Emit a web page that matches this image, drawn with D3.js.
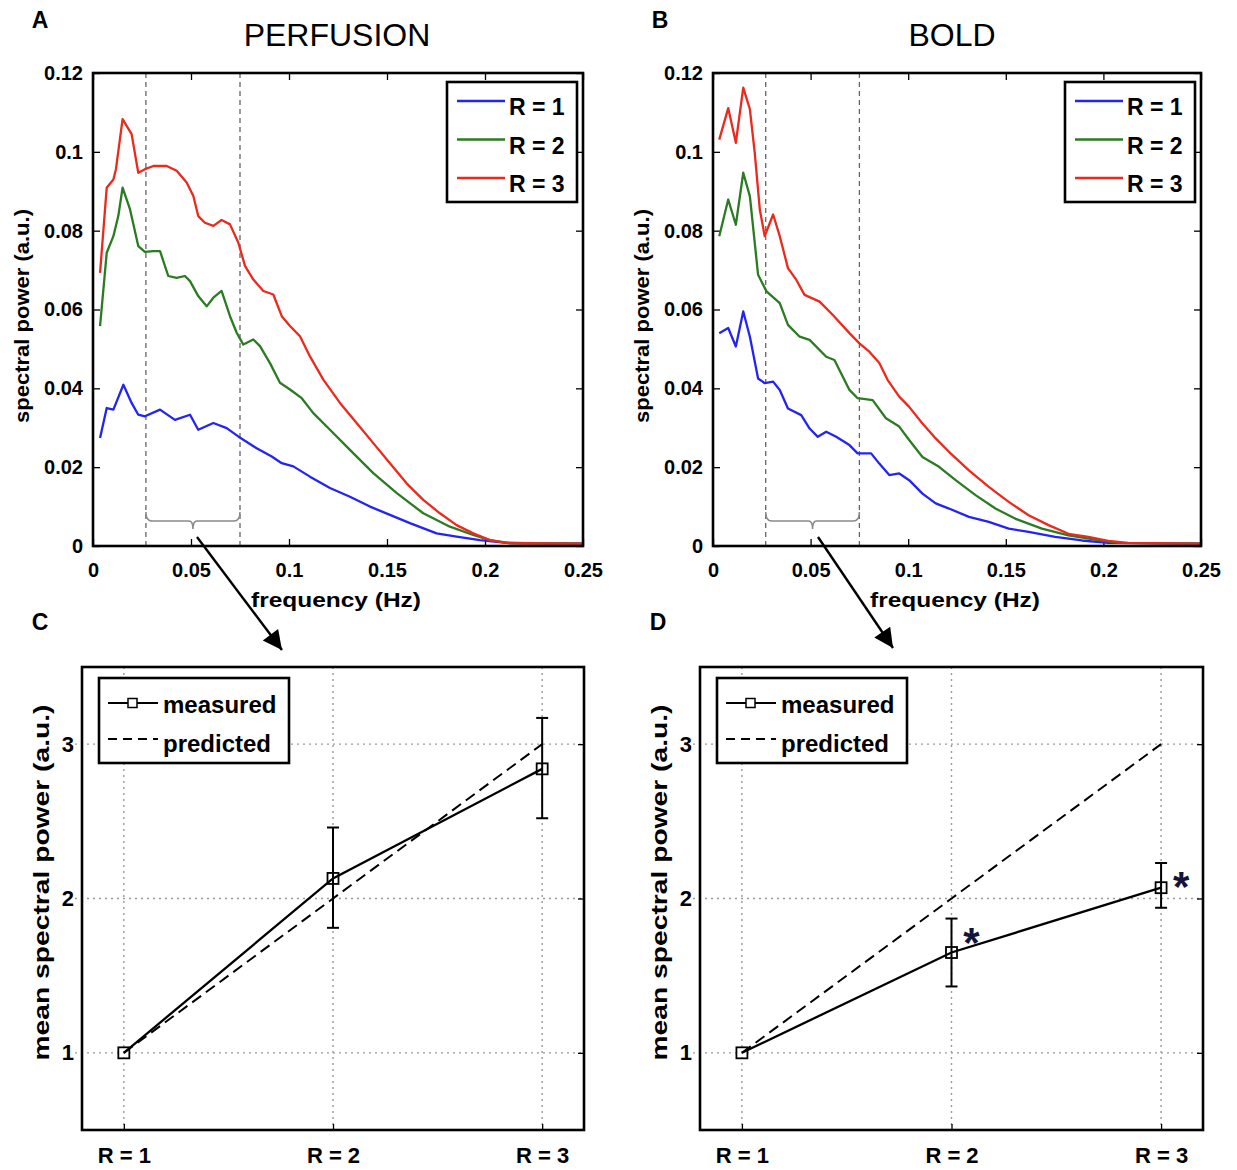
<!DOCTYPE html>
<html>
<head>
<meta charset="utf-8">
<script src="https://cdn.jsdelivr.net/npm/d3@7"></script>
<style>
  body { margin: 0; background: #fff; }
  svg text { font-family: "Liberation Sans", Arial, sans-serif; }
</style>
</head>
<body>
<script>
// ---- data ----
const seriesNames = ["R = 1", "R = 2", "R = 3"];
const freqTicks = [0, 0.05, 0.1, 0.15, 0.2, 0.25];
const powerTicks = [0, 0.02, 0.04, 0.06, 0.08, 0.1, 0.12];
const bandEdges = [0.027, 0.075];

// [frequency (Hz), spectral power]
const perfusionR1 = [[0.0036,0.0274],[0.007,0.035],[0.0104,0.0346],[0.0155,0.0409],[0.0197,0.0363],[0.0231,0.0333],[0.0265,0.0329],[0.0342,0.0346],[0.0418,0.032],[0.0495,0.0333],[0.0537,0.0295],[0.0614,0.0312],[0.0682,0.0299],[0.0741,0.0278],[0.0835,0.0248],[0.0912,0.0227],[0.0963,0.021],[0.1022,0.0202],[0.1107,0.0176],[0.1209,0.0147],[0.1311,0.0125],[0.1413,0.01],[0.1515,0.0079],[0.1617,0.0058],[0.1753,0.0032],[0.1855,0.0024],[0.1974,0.0015],[0.211,0.0008],[0.25,0.0006]];
const perfusionR2 = [[0.0036,0.0558],[0.007,0.0744],[0.0104,0.0786],[0.0129,0.0837],[0.0151,0.0909],[0.0189,0.0854],[0.0231,0.0761],[0.0265,0.0746],[0.0308,0.0748],[0.0342,0.0748],[0.0384,0.0685],[0.0427,0.068],[0.0469,0.0685],[0.0495,0.0672],[0.0537,0.0634],[0.058,0.0608],[0.0614,0.063],[0.0656,0.0647],[0.0699,0.0583],[0.0733,0.0541],[0.0767,0.0511],[0.0818,0.0524],[0.0852,0.0507],[0.0903,0.0464],[0.0954,0.0414],[0.1005,0.0397],[0.1065,0.0375],[0.1124,0.0337],[0.1209,0.0295],[0.1311,0.0244],[0.143,0.0185],[0.155,0.0134],[0.1685,0.0083],[0.1821,0.0049],[0.194,0.0028],[0.2025,0.0015],[0.2127,0.0007],[0.25,0.0006]];
const perfusionR3 = [[0.0036,0.0693],[0.007,0.0909],[0.0104,0.093],[0.0117,0.0956],[0.0151,0.1083],[0.0197,0.1045],[0.0231,0.0947],[0.0265,0.0956],[0.0308,0.0964],[0.0376,0.0964],[0.0427,0.0952],[0.0478,0.0922],[0.0512,0.0888],[0.0537,0.0837],[0.0571,0.082],[0.0614,0.0812],[0.0656,0.0827],[0.0699,0.0816],[0.0741,0.077],[0.0776,0.071],[0.0818,0.0676],[0.0869,0.0647],[0.092,0.0638],[0.0963,0.0583],[0.1005,0.0558],[0.1056,0.0532],[0.1107,0.0481],[0.1175,0.0422],[0.126,0.0363],[0.1345,0.0312],[0.143,0.0261],[0.1515,0.021],[0.16,0.0159],[0.1685,0.0117],[0.177,0.0083],[0.1855,0.0053],[0.194,0.0032],[0.2025,0.0015],[0.211,0.0008],[0.2195,0.0007],[0.25,0.0006]];

const boldR1 = [[0.0032,0.054],[0.0078,0.0553],[0.0117,0.0506],[0.0155,0.0595],[0.0189,0.0531],[0.0231,0.0425],[0.0265,0.0413],[0.0308,0.0417],[0.0342,0.0396],[0.0384,0.0349],[0.0452,0.0332],[0.0495,0.0298],[0.0537,0.0277],[0.058,0.029],[0.0631,0.0277],[0.0699,0.0256],[0.0741,0.0235],[0.081,0.0235],[0.0852,0.0209],[0.0903,0.018],[0.0954,0.0184],[0.1005,0.0167],[0.1073,0.0133],[0.1141,0.0108],[0.1209,0.0095],[0.1311,0.0074],[0.1413,0.0061],[0.1515,0.0044],[0.1617,0.0036],[0.1753,0.0023],[0.189,0.0014],[0.2025,0.0008],[0.25,0.0006]];
const boldR2 = [[0.0032,0.0786],[0.0078,0.0879],[0.0117,0.0815],[0.0155,0.0947],[0.0189,0.0887],[0.0231,0.0688],[0.0274,0.0646],[0.0342,0.0616],[0.0384,0.0561],[0.0444,0.0531],[0.0495,0.0523],[0.058,0.048],[0.0622,0.0472],[0.0699,0.0396],[0.0741,0.0375],[0.0818,0.037],[0.0886,0.0324],[0.0954,0.0303],[0.1005,0.0269],[0.1073,0.0226],[0.1158,0.0201],[0.1243,0.0167],[0.1345,0.0129],[0.1447,0.0095],[0.155,0.0069],[0.1685,0.0044],[0.1821,0.0027],[0.1957,0.0016],[0.2076,0.0008],[0.25,0.0006]];
const boldR3 = [[0.0032,0.1031],[0.0078,0.1111],[0.0117,0.1023],[0.0155,0.1163],[0.0189,0.1108],[0.0214,0.0997],[0.024,0.0853],[0.0265,0.0786],[0.0308,0.0841],[0.0342,0.0786],[0.0384,0.0705],[0.0427,0.0675],[0.0469,0.0637],[0.0546,0.062],[0.0614,0.0586],[0.0699,0.054],[0.075,0.0514],[0.0801,0.0493],[0.0852,0.0464],[0.0895,0.0421],[0.0954,0.0379],[0.1005,0.0353],[0.1073,0.0311],[0.1141,0.0273],[0.1209,0.0239],[0.1311,0.0192],[0.1413,0.015],[0.1515,0.0112],[0.1617,0.0078],[0.1719,0.0053],[0.1821,0.0031],[0.1923,0.0023],[0.2025,0.0013],[0.2127,0.0008],[0.25,0.0006]];

const rLevels = [1, 2, 3];
const rLabels = ["R = 1", "R = 2", "R = 3"];
const ratioTicks = [1, 2, 3];
const predicted = [1, 2, 3];
const perfMeasured = [1, 2.13, 2.84];
const perfErrLow = [1, 1.81, 2.52];
const perfErrHigh = [1, 2.46, 3.17];
const boldMeasured = [1, 1.65, 2.07];
const boldErrLow = [1, 1.43, 1.94];
const boldErrHigh = [1, 1.87, 2.23];
const boldSignificant = [false, true, true];

// ---- drawing ----
const width = 1237, height = 1170;
const colors = ["#2424f2", "#2b7b22", "#ea2a1c"];
const font = '"Liberation Sans", Arial, sans-serif';

const svg = d3.select("body").append("svg")
  .attr("width", width).attr("height", height);

svg.append("defs").append("marker")
  .attr("id", "head").attr("viewBox", "0 0 10 10")
  .attr("refX", 10).attr("refY", 5)
  .attr("markerWidth", 9).attr("markerHeight", 8)
  .attr("markerUnits", "strokeWidth").attr("orient", "auto")
  .append("path").attr("d", "M0,0 L10,5 L0,10 Z").attr("fill", "#000");

function styleAxis(g, size) {
  g.attr("font-family", font).attr("font-size", size).attr("font-weight", "bold");
  g.select(".domain").remove();
  g.selectAll(".tick line").attr("stroke", "#000").attr("stroke-width", 1.3);
  g.selectAll(".tick text").attr("fill", "#000");
}

function spectrumPanel(left, right, letter, title, titleX, curves) {
  const top = 73, bottom = 546;
  const x = d3.scaleLinear().domain([0, 0.25]).range([left, right]);
  const y = d3.scaleLinear().domain([0, 0.12]).range([bottom, top]);
  const fmt = d => String(+d.toFixed(2));

  svg.append("g").attr("transform", `translate(0,${bottom})`)
    .call(d3.axisBottom(x).tickValues(freqTicks).tickFormat(fmt).tickSize(-7).tickPadding(17))
    .call(g => styleAxis(g, 20));
  svg.append("g").attr("transform", `translate(0,${top})`)
    .call(d3.axisTop(x).tickValues(freqTicks).tickFormat("").tickSize(-7))
    .call(g => styleAxis(g, 20));
  svg.append("g").attr("transform", `translate(${left},0)`)
    .call(d3.axisLeft(y).tickValues(powerTicks).tickFormat(fmt).tickSize(-7).tickPadding(10))
    .call(g => styleAxis(g, 20));
  svg.append("g").attr("transform", `translate(${right},0)`)
    .call(d3.axisRight(y).tickValues(powerTicks).tickFormat("").tickSize(-7))
    .call(g => styleAxis(g, 20));

  // frequency band
  bandEdges.forEach(f => {
    svg.append("line")
      .attr("x1", x(f)).attr("x2", x(f)).attr("y1", top).attr("y2", bottom)
      .attr("stroke", "#666").attr("stroke-width", 1.3).attr("stroke-dasharray", "5,4");
  });
  const bx0 = x(bandEdges[0]), bx1 = x(bandEdges[1]), bm = (bx0 + bx1) / 2;
  svg.append("path")
    .attr("d", `M${bx0},512 Q${bx0},521 ${bx0 + 6},521 L${bm - 4},521 Q${bm},521 ${bm},529
               Q${bm},521 ${bm + 4},521 L${bx1 - 6},521 Q${bx1},521 ${bx1},512`)
    .attr("fill", "none").attr("stroke", "#8a8a8a").attr("stroke-width", 1.6);

  const line = d3.line().x(d => x(d[0])).y(d => y(d[1]));
  curves.forEach((c, i) => {
    svg.append("path").datum(c)
      .attr("d", line).attr("fill", "none")
      .attr("stroke", colors[i]).attr("stroke-width", 2.3)
      .attr("stroke-linejoin", "round");
  });

  svg.append("rect")
    .attr("x", left).attr("y", top).attr("width", right - left).attr("height", bottom - top)
    .attr("fill", "none").attr("stroke", "#000").attr("stroke-width", 2.6);

  // legend
  const lg = svg.append("g").attr("transform", `translate(${right - 136},82)`);
  lg.append("rect").attr("width", 130).attr("height", 120)
    .attr("fill", "#fff").attr("stroke", "#000").attr("stroke-width", 2.6);
  seriesNames.forEach((name, i) => {
    const ly = 19 + i * 38.5;
    lg.append("line").attr("x1", 10).attr("x2", 58).attr("y1", ly).attr("y2", ly)
      .attr("stroke", colors[i]).attr("stroke-width", 2.3);
    lg.append("text").attr("x", 62).attr("y", ly + 14)
      .attr("font-size", 23).attr("font-weight", "bold").text(name);
  });

  svg.append("text").attr("x", (left + right) / 2 - 2).attr("y", 607)
    .attr("text-anchor", "middle").attr("font-size", 21).attr("font-weight", "bold")
    .attr("textLength", 170).attr("lengthAdjust", "spacingAndGlyphs")
    .text("frequency (Hz)");
  svg.append("text")
    .attr("transform", `translate(${left - 64},316) rotate(-90)`)
    .attr("text-anchor", "middle").attr("font-size", 21).attr("font-weight", "bold")
    .attr("textLength", 214).attr("lengthAdjust", "spacingAndGlyphs")
    .text("spectral power (a.u.)");

  svg.append("text").attr("x", titleX).attr("y", 46).attr("text-anchor", "middle")
    .attr("font-size", 32).text(title);
  svg.append("text").attr("x", left - 53).attr("y", 28).attr("text-anchor", "middle")
    .attr("font-size", 23).attr("font-weight", "bold").text(letter);

  return x;
}

function ratioPanel(left, right, letter, measured, lo, hi, stars) {
  const top = 667, bottom = 1130;
  const x = d3.scaleLinear().domain([0.8, 3.2]).range([left, right]);
  const y = d3.scaleLinear().domain([0.5, 3.5]).range([bottom, top]);

  // dotted grid
  ratioTicks.forEach(v => {
    svg.append("line").attr("x1", left - 7).attr("x2", right).attr("y1", y(v)).attr("y2", y(v))
      .attr("stroke", "#9a9a9a").attr("stroke-width", 1.4).attr("stroke-dasharray", "2,4");
  });
  rLevels.forEach(r => {
    svg.append("line").attr("x1", x(r)).attr("x2", x(r)).attr("y1", top).attr("y2", bottom)
      .attr("stroke", "#9a9a9a").attr("stroke-width", 1.4).attr("stroke-dasharray", "2,4");
  });

  svg.append("g").attr("transform", `translate(0,${bottom})`)
    .call(d3.axisBottom(x).tickValues(rLevels).tickFormat((d, i) => rLabels[i]).tickSize(-6).tickPadding(17))
    .call(g => styleAxis(g, 22));
  svg.append("g").attr("transform", `translate(${left},0)`)
    .call(d3.axisLeft(y).tickValues(ratioTicks).tickFormat(d => String(d)).tickSize(0).tickPadding(8))
    .call(g => styleAxis(g, 22));
  svg.append("g").attr("transform", `translate(${right},0)`)
    .call(d3.axisRight(y).tickValues(ratioTicks).tickFormat("").tickSize(-6))
    .call(g => styleAxis(g, 22));

  const line = d3.line().x((d, i) => x(rLevels[i])).y(d => y(d));
  svg.append("path").datum(predicted).attr("d", line).attr("fill", "none")
    .attr("stroke", "#000").attr("stroke-width", 2).attr("stroke-dasharray", "11,6");
  svg.append("path").datum(measured).attr("d", line).attr("fill", "none")
    .attr("stroke", "#000").attr("stroke-width", 2.3);

  rLevels.forEach((r, i) => {
    if (hi[i] !== lo[i]) {
      svg.append("line").attr("x1", x(r)).attr("x2", x(r)).attr("y1", y(lo[i])).attr("y2", y(hi[i]))
        .attr("stroke", "#000").attr("stroke-width", 2);
      [lo[i], hi[i]].forEach(v => svg.append("line")
        .attr("x1", x(r) - 6).attr("x2", x(r) + 6).attr("y1", y(v)).attr("y2", y(v))
        .attr("stroke", "#000").attr("stroke-width", 2));
    }
    svg.append("rect").attr("x", x(r) - 5.5).attr("y", y(measured[i]) - 5.5)
      .attr("width", 11).attr("height", 11)
      .attr("fill", "none").attr("stroke", "#000").attr("stroke-width", 1.8);
    if (stars && stars[i]) {
      svg.append("text").attr("x", x(r) + 20).attr("y", y(hi[i]) + 38)
        .attr("text-anchor", "middle").attr("font-size", 42).attr("font-weight", "bold")
        .attr("fill", "#14143a").text("*");
    }
  });

  svg.append("rect")
    .attr("x", left).attr("y", top).attr("width", right - left).attr("height", bottom - top)
    .attr("fill", "none").attr("stroke", "#000").attr("stroke-width", 2.6);

  // legend
  const lg = svg.append("g").attr("transform", `translate(${left + 17},678)`);
  lg.append("rect").attr("width", 190).attr("height", 85)
    .attr("fill", "#fff").attr("stroke", "#000").attr("stroke-width", 2.6);
  lg.append("line").attr("x1", 9).attr("x2", 59).attr("y1", 25).attr("y2", 25)
    .attr("stroke", "#000").attr("stroke-width", 2);
  lg.append("rect").attr("x", 29).attr("y", 20.5).attr("width", 9).attr("height", 9)
    .attr("fill", "#fff").attr("stroke", "#000").attr("stroke-width", 1.5);
  lg.append("text").attr("x", 64).attr("y", 35).attr("font-size", 24).attr("font-weight", "bold")
    .text("measured");
  lg.append("line").attr("x1", 9).attr("x2", 59).attr("y1", 61).attr("y2", 61)
    .attr("stroke", "#000").attr("stroke-width", 2).attr("stroke-dasharray", "9,6");
  lg.append("text").attr("x", 64).attr("y", 74).attr("font-size", 24).attr("font-weight", "bold")
    .text("predicted");

  svg.append("text")
    .attr("transform", `translate(${left - 33},${(top + bottom) / 2 - 16}) rotate(-90)`)
    .attr("text-anchor", "middle").attr("font-size", 22).attr("font-weight", "bold")
    .attr("textLength", 356).attr("lengthAdjust", "spacingAndGlyphs")
    .text("mean spectral power (a.u.)");
  svg.append("text").attr("x", left - 42).attr("y", 630).attr("text-anchor", "middle")
    .attr("font-size", 23).attr("font-weight", "bold").text(letter);
}

spectrumPanel(93, 583, "A", "PERFUSION", 337, [perfusionR1, perfusionR2, perfusionR3]);
spectrumPanel(713, 1201, "B", "BOLD", 952, [boldR1, boldR2, boldR3]);
ratioPanel(82, 584, "C", perfMeasured, perfErrLow, perfErrHigh, null);
ratioPanel(700, 1203, "D", boldMeasured, boldErrLow, boldErrHigh, boldSignificant);

// arrows from the frequency band to the summary panels
[[197, 537, 282, 650], [818, 537, 893, 648]].forEach(([x1, y1, x2, y2]) => {
  svg.append("line").attr("x1", x1).attr("y1", y1).attr("x2", x2).attr("y2", y2)
    .attr("stroke", "#000").attr("stroke-width", 2.4).attr("marker-end", "url(#head)");
});
</script>
</body>
</html>
